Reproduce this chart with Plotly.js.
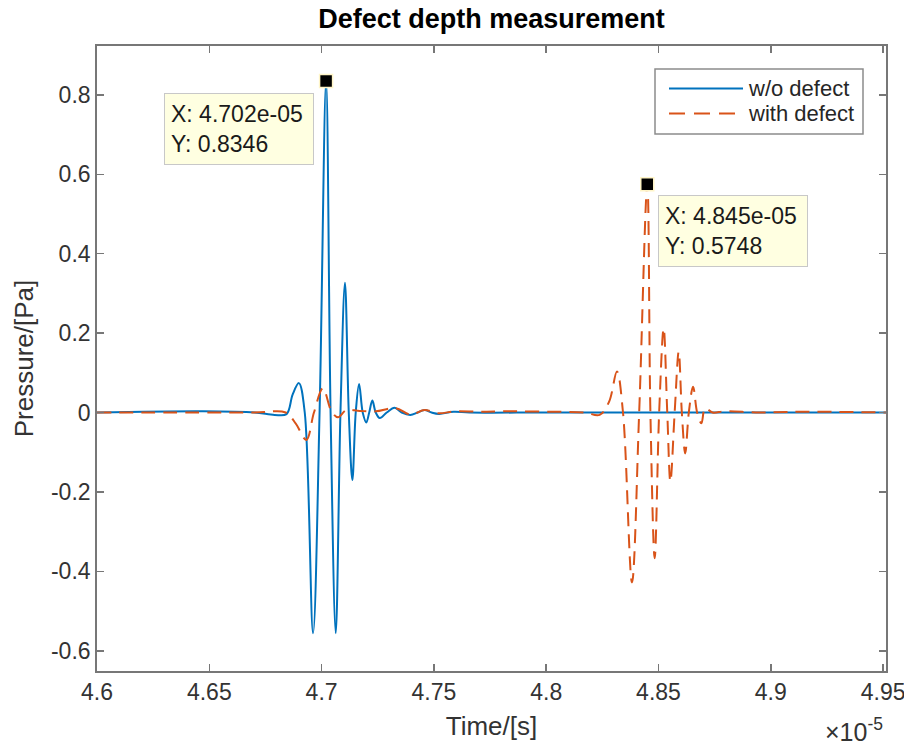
<!DOCTYPE html>
<html><head><meta charset="utf-8">
<script src="https://cdn.plot.ly/plotly-3.0.1.min.js"></script>
<style>html,body{margin:0;padding:0;background:#fff}</style>
</head><body>
<div id="chart" style="width:904px;height:746px"></div>
<script>
// Time in units of 1e-5 s, pressure in Pa
const timeNoDefect = [4.6, 4.6471, 4.6702, 4.6791, 4.6844, 4.6871, 4.6899, 4.6925, 4.6962, 4.6991, 4.702, 4.7040, 4.7063, 4.7084, 4.7104, 4.7121, 4.7137, 4.7152, 4.7167, 4.7183, 4.7199, 4.7212, 4.7226, 4.7241, 4.7259, 4.7290, 4.7325, 4.7357, 4.7395, 4.7428, 4.7459, 4.7490, 4.7523, 4.7588, 4.7659, 4.80, 4.85, 4.90, 4.9513];
const pressureNoDefect = [0, 0.003, 0, -0.006, -0.004, 0.045, 0.074, 0, -0.556, 0, 0.8346, 0, -0.556, 0, 0.327, 0, -0.17, 0, 0.072, 0, -0.025, 0, 0.03, 0, -0.014, 0, 0.012, 0, -0.006, 0, 0.0065, 0, -0.0035, 0.002, 0, 0, 0, 0, 0];

const timeWithDefect = [4.6, 4.6702, 4.6840, 4.6885, 4.6932, 4.6966, 4.7006, 4.7044, 4.7073, 4.7110, 4.7170, 4.7241, 4.7330, 4.7395, 4.7459, 4.7521, 4.7593, 4.7704, 4.7837, 4.7993, 4.8171, 4.8238, 4.8280, 4.8315, 4.8342, 4.8382, 4.8414, 4.845, 4.8464, 4.8483, 4.8503, 4.8523, 4.8539, 4.8553, 4.8572, 4.8590, 4.8604, 4.8619, 4.8635, 4.8654, 4.8672, 4.8691, 4.8708, 4.8741, 4.8795, 4.8950, 4.9128, 4.9513];
const pressureWithDefect = [0, 0, 0, -0.028, -0.069, 0, 0.061, 0.003, -0.012, 0.006, 0.004, 0.003, 0.011, -0.005, 0.006, -0.002, 0.003, 0.002, 0.003, 0.002, 0, -0.006, 0.027, 0.103, 0, -0.428, 0, 0.5748, 0, -0.367, 0, 0.212, 0, -0.174, 0, 0.153, 0, -0.103, 0, 0.065, 0, -0.027, 0.011, 0, 0.003, 0, 0.002, 0];

const seriesNames = ['w/o defect', 'with defect'];
const seriesColors = ['#0072BD', '#D95319'];

const tipTimes = [4.702, 4.845];
const tipPressures = [0.8346, 0.5748];

const xTickVals = [4.6, 4.65, 4.7, 4.75, 4.8, 4.85, 4.9, 4.95];
const xTickText = ['4.6', '4.65', '4.7', '4.75', '4.8', '4.85', '4.9', '4.95'];
const yTickVals = [-0.6, -0.4, -0.2, 0, 0.2, 0.4, 0.6, 0.8];
const yTickText = ['-0.6', '-0.4', '-0.2', '0', '0.2', '0.4', '0.6', '0.8'];

const FONT = 'Liberation Sans, Arial, Helvetica, sans-serif';
const axisGray = '#777777';
const textGray = '#333333';

const traces = [
  {x: timeNoDefect, y: pressureNoDefect, name: seriesNames[0], mode: 'lines',
   line: {color: seriesColors[0], width: 2, shape: 'spline', smoothing: 1}, showlegend: false, hoverinfo: 'skip'},
  {x: timeWithDefect, y: pressureWithDefect, name: seriesNames[1], mode: 'lines',
   line: {color: seriesColors[1], width: 2, dash: '14px,8px', shape: 'spline', smoothing: 1}, showlegend: false, hoverinfo: 'skip'},
  {x: tipTimes, y: tipPressures, mode: 'markers', showlegend: false, hoverinfo: 'skip',
   marker: {symbol: 'square', size: 13, color: '#000000', line: {color: '#FFF5C8', width: 1.5}}}
];

const tipShifts = [[-87, -48], [86, -47]];
const annotations = tipTimes.map((t, i) => ({
  x: t, y: tipPressures[i], xref: 'x', yref: 'y',
  xanchor: 'center', yanchor: 'middle',
  xshift: tipShifts[i][0], yshift: tipShifts[i][1],
  text: 'X: ' + t.toFixed(3) + 'e-05<br>Y: ' + tipPressures[i].toFixed(4),
  showarrow: false,
  align: 'left', width: 136, height: 58,
  bgcolor: '#FFFFE1', bordercolor: '#C8C8C8', borderwidth: 1, borderpad: 6,
  font: {family: FONT, size: 23, color: '#1a1a1a'}
}));

// Plot area in pixels: x 97..886, y 46..671
const L = 97, R = 886, T = 46, B = 671;
const px = v => (v - L) / (R - L);
const py = v => (B - v) / (B - T);

// legend (custom, MATLAB style)
const legendRows = [88.5, 113.5];
seriesNames.forEach((nm, i) => {
  annotations.push({
    xref: 'paper', yref: 'paper', x: px(746), y: py(legendRows[i]),
    xanchor: 'left', yanchor: 'middle', showarrow: false, text: nm,
    font: {family: FONT, size: 22, color: '#262626'}
  });
});
// exponent label
annotations.push({
  xref: 'paper', yref: 'paper', x: px(823), y: py(730), xanchor: 'left', yanchor: 'middle',
  showarrow: false, text: '×10<sup>-5</sup>', font: {family: FONT, size: 25, color: textGray}
});

const shapes = [
  {type: 'rect', xref: 'paper', yref: 'paper', x0: px(655), x1: px(863), y0: py(134), y1: py(69),
   line: {color: '#8c8c8c', width: 1.5}, fillcolor: '#ffffff', layer: 'above'},
  {type: 'line', xref: 'paper', yref: 'paper', x0: px(669), x1: px(743), y0: py(legendRows[0]), y1: py(legendRows[0]),
   line: {color: seriesColors[0], width: 2}},
  {type: 'line', xref: 'paper', yref: 'paper', x0: px(669), x1: px(743), y0: py(legendRows[1]), y1: py(legendRows[1]),
   line: {color: seriesColors[1], width: 2, dash: '16px,9px'}}
];

const axisCommon = {
  showline: true, linecolor: axisGray, linewidth: 1.8, mirror: 'allticks',
  ticks: 'inside', ticklen: 7, tickwidth: 1.5, tickcolor: axisGray,
  showgrid: false, zeroline: false, ticklabeloverflow: 'allow',
  tickfont: {family: FONT, size: 23, color: textGray}
};

const layout = {
  width: 904, height: 746,
  margin: {l: L, r: 904 - R, t: T, b: 746 - B, pad: 0},
  paper_bgcolor: '#ffffff', plot_bgcolor: '#ffffff',
  title: {text: '<b>Defect depth measurement</b>', xref: 'paper', x: 0.5, xanchor: 'center',
          yref: 'container', y: 1 - 19 / 746, yanchor: 'middle',
          font: {family: FONT, size: 27, color: '#000000'}},
  xaxis: Object.assign({}, axisCommon, {
    range: [4.6, 4.9513], tickvals: xTickVals, ticktext: xTickText,
    title: {text: 'Time/[s]', standoff: 12, font: {family: FONT, size: 26, color: textGray}}
  }),
  yaxis: Object.assign({}, axisCommon, {
    range: [-0.651, 0.923], tickvals: yTickVals, ticktext: yTickText,
    title: {text: 'Pressure/[Pa]', standoff: 10, font: {family: FONT, size: 26, color: textGray}}
  }),
  shapes: shapes,
  annotations: annotations,
  showlegend: false
};

Plotly.newPlot('chart', traces, layout, {displayModeBar: false, staticPlot: true});
</script>
</body></html>
